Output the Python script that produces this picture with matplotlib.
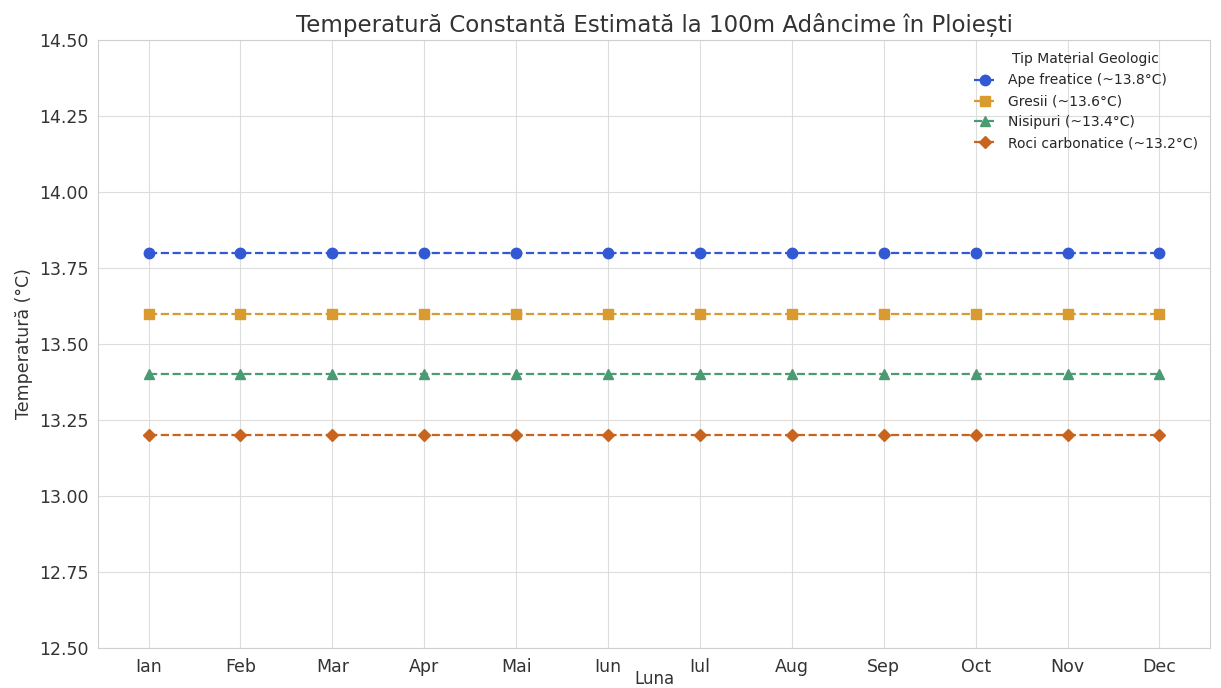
import matplotlib.pyplot as plt
import seaborn as sns

sns.set_style("whitegrid", {"grid.color": "#dddddd", "axes.edgecolor": "#d0d0d0"})
plt.rcParams['font.family'] = ['DejaVu Sans']

luni = ["Ian", "Feb", "Mar", "Apr", "Mai", "Iun", "Iul", "Aug", "Sep", "Oct", "Nov", "Dec"]

ape_freatice = [13.8] * 12
gresii = [13.6] * 12
nisipuri = [13.4] * 12
roci_carbonatice = [13.2] * 12

serii = [
    ("Ape freatice (~13.8°C)", ape_freatice, "o", "#3358D4"),
    ("Gresii (~13.6°C)", gresii, "s", "#D99A30"),
    ("Nisipuri (~13.4°C)", nisipuri, "^", "#4A9A72"),
    ("Roci carbonatice (~13.2°C)", roci_carbonatice, "D", "#C8641E"),
]

fig = plt.figure(figsize=(12.21, 6.88), dpi=100)
ax = fig.add_axes([98 / 1221, 40 / 688, (1210 - 98) / 1221, (648 - 40) / 688])

for nume, valori, marker, culoare in serii:
    ms = 6.5 if marker == "D" else 7.5
    ax.plot(luni, valori, linestyle="--", marker=marker, color=culoare,
            markersize=ms, linewidth=1.6, label=nume)

ax.set_ylim(12.5, 14.5)
ax.set_yticks([12.5, 12.75, 13.0, 13.25, 13.5, 13.75, 14.0, 14.25, 14.5])
ax.yaxis.set_major_formatter(plt.FormatStrFormatter("%.2f"))
ax.tick_params(axis="both", labelsize=12.5, colors="#333333")

ax.set_title("Temperatură Constantă Estimată la 100m Adâncime în Ploiești", fontsize=16.5, color="#333333", pad=6)
ax.set_xlabel("Luna", fontsize=12, color="#333333")
# eticheta sta foarte jos, ca in original, dar ramane in imagine
ax.xaxis.set_label_coords(0.5, -0.036)
ax.set_ylabel("Temperatură (°C)", fontsize=12.5, color="#333333")

leg = ax.legend(title="Tip Material Geologic", loc="upper right", frameon=False,
                fontsize=10, title_fontsize=10, handlelength=1.6)

fig.savefig("out.png", dpi=100)
